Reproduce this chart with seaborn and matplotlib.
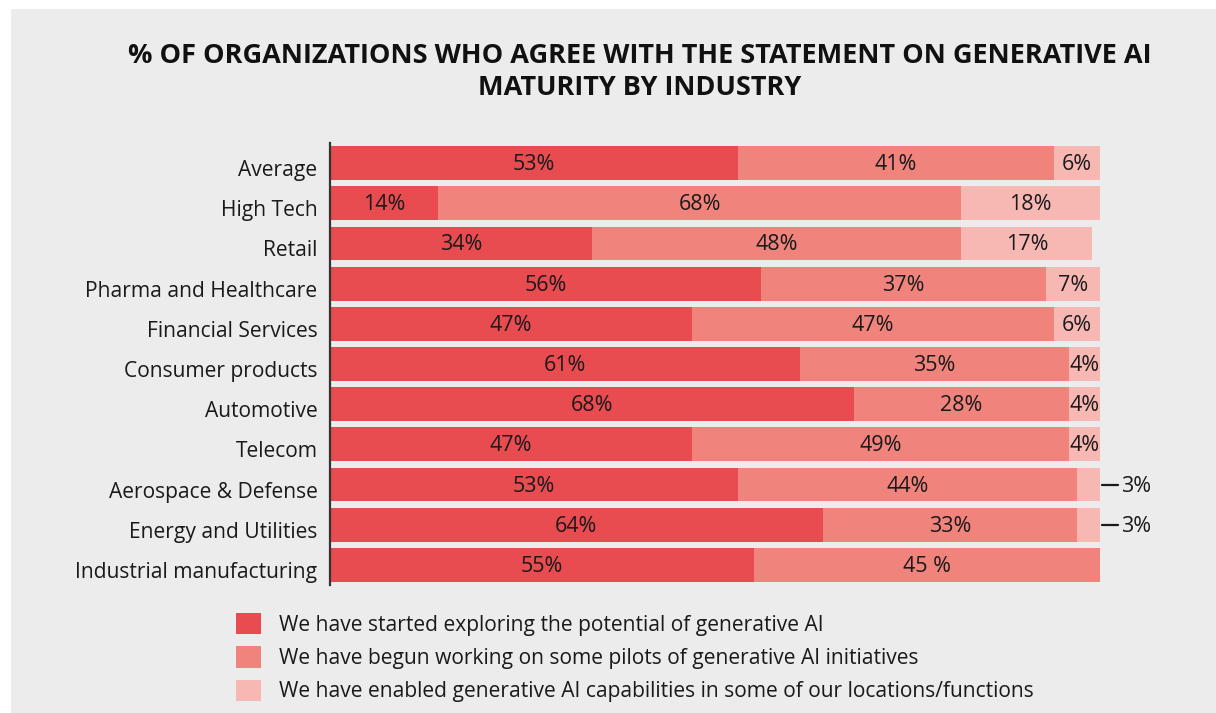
import matplotlib
matplotlib.use("Agg")
import matplotlib.pyplot as plt
from matplotlib.patches import Rectangle, Patch
from matplotlib.transforms import ScaledTranslation
import numpy as np
import pandas as pd
import seaborn as sns

# ---- data ----
industries = [
    "Average", "High Tech", "Retail", "Pharma and Healthcare",
    "Financial Services", "Consumer products", "Automotive", "Telecom",
    "Aerospace & Defense", "Energy and Utilities", "Industrial manufacturing",
]
exploring = [53, 14, 34, 56, 47, 61, 68, 47, 53, 64, 55]
pilots = [41, 68, 48, 37, 47, 35, 28, 49, 44, 33, 45]
enabled = [6, 18, 17, 7, 6, 4, 4, 4, 3, 3, 0]

series_names = [
    "We have started exploring the potential of generative AI",
    "We have begun working on some pilots of generative AI initiatives",
    "We have enabled generative AI capabilities in some of our locations/functions",
]
title = "% OF ORGANIZATIONS WHO AGREE WITH THE STATEMENT ON GENERATIVE AI\nMATURITY BY INDUSTRY"

c_dark, c_mid, c_light = "#e84b50", "#f0837c", "#f7b8b3"
bg = "#ececec"
txt = "#1a1a1a"
label_size = 15.1
value_size = 15.5

sns.set_theme(style="white")
plt.rcParams["font.family"] = ["Open Sans", "DejaVu Sans"]

df = pd.DataFrame({"industry": industries, "exploring": exploring,
                   "pilots": pilots, "enabled": enabled})
df["cum2"] = df["exploring"] + df["pilots"]
df["cum3"] = df["cum2"] + df["enabled"]

fig = plt.figure(figsize=(12.16, 7.13), dpi=100, facecolor="white")
fig.patches.append(Rectangle((11 / 1216, 0), 1, 1 - 9 / 713, transform=fig.transFigure,
                             facecolor=bg, edgecolor="none", zorder=-10))

ax = fig.add_axes([330 / 1216, 1 - 585 / 713, 770 / 1216, 442 / 713])
ax.set_facecolor("none")

# stacked bars: totals first, then cumulative layers on top
for col, colr in [("cum3", c_light), ("cum2", c_mid), ("exploring", c_dark)]:
    sns.barplot(data=df, x=col, y="industry", orient="h", color=colr,
                saturation=1, width=0.84, linewidth=0, ax=ax)

ax.set_xlim(0, 100)
ax.set_ylim(10.5, -0.5)
ax.set_xlabel("")
ax.set_ylabel("")
ax.set_xticks([])
for s in ["top", "right", "bottom"]:
    ax.spines[s].set_visible(False)
ax.spines["left"].set_color("#333333")
ax.spines["left"].set_linewidth(1.6)
ax.tick_params(axis="y", length=0, pad=9, labelsize=label_size, labelcolor=txt)
ax.set_yticks(np.arange(len(industries)) + 0.5, minor=True)
ax.tick_params(axis="y", which="minor", length=2.5, width=1.2, color="#333333", direction="out")

# nudge category labels slightly below bar centres
down = ScaledTranslation(0, -5 / 100, fig.dpi_scale_trans)
for lab in ax.get_yticklabels():
    lab.set_transform(lab.get_transform() + down)

# value labels
val_shift = ScaledTranslation(0, -1.5 / 100, fig.dpi_scale_trans)
vtrans = ax.transData + val_shift
mid_labels = [f"{v}%" for v in pilots]
mid_labels[-1] = "45 %"
for i in range(len(industries)):
    e, p, n = exploring[i], pilots[i], enabled[i]
    ax.text(e / 2, i, f"{e}%", ha="center", va="center", fontsize=value_size,
            color=txt, transform=vtrans)
    ax.text(e + p / 2, i, mid_labels[i], ha="center", va="center", fontsize=value_size,
            color=txt, transform=vtrans)
    if n >= 4:
        ax.text(e + p + n / 2, i, f"{n}%", ha="center", va="center", fontsize=value_size,
                color=txt, transform=vtrans)
    elif n > 0:
        ax.plot([100.2, 102.3], [i, i], color=txt, lw=1.6, clip_on=False)
        ax.text(102.7, i, f"{n}%", ha="left", va="center", fontsize=value_size,
                color=txt, clip_on=False, transform=vtrans)

fig.text(640 / 1216, 1 - 72 / 713, title, ha="center", va="center", fontsize=19.5,
         fontweight="bold", color="#111111", linespacing=1.32)

handles = [Patch(facecolor=c, edgecolor="none") for c in (c_dark, c_mid, c_light)]
fig.legend(handles, series_names, loc="upper left",
           bbox_to_anchor=(236 / 1216, 1 - 613 / 713), frameon=False,
           fontsize=label_size, labelcolor=txt, handlelength=1.2, handleheight=1.2,
           handletextpad=0.85, labelspacing=0.5, borderpad=0, borderaxespad=0)

fig.savefig("out.png", dpi=100, facecolor="white")
